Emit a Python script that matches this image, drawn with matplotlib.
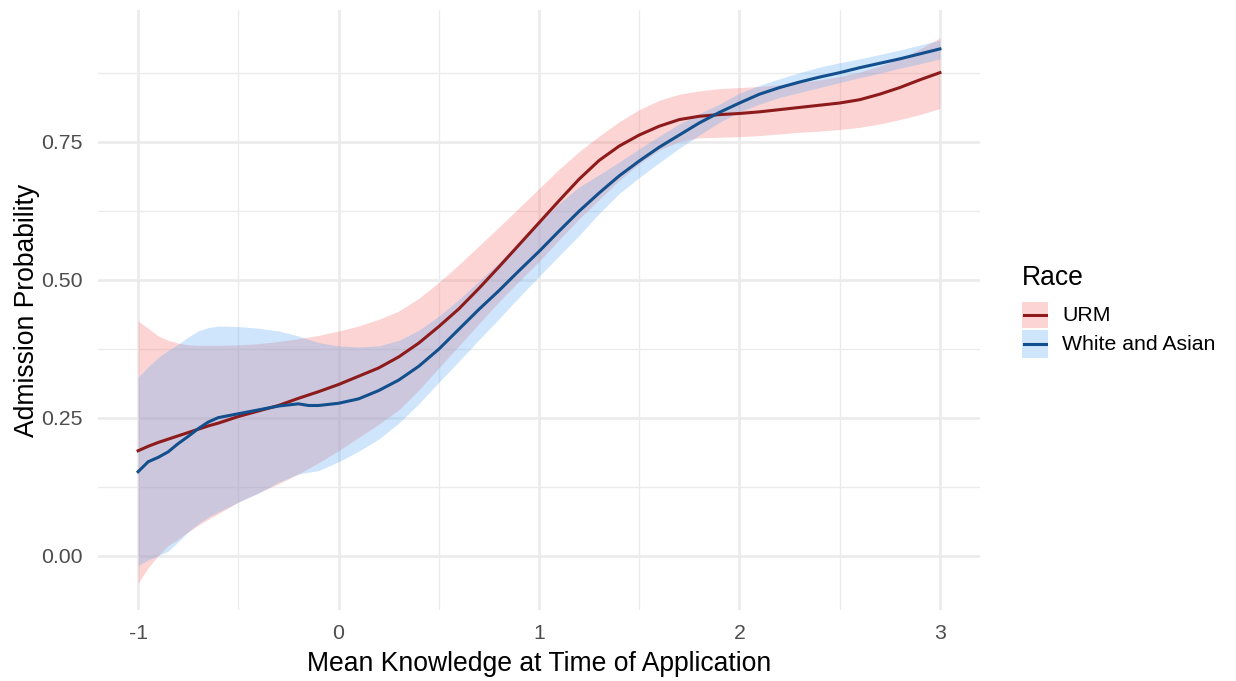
import matplotlib
matplotlib.use("Agg")
import matplotlib.pyplot as plt
from matplotlib.patches import Rectangle
from matplotlib.lines import Line2D
import numpy as np

plt.rcParams["font.family"] = ["Liberation Sans", "DejaVu Sans"]

# Predictor grid
knowledge = [-1.0, -0.95, -0.9, -0.85, -0.8, -0.75, -0.7, -0.65, -0.6, -0.5,
             -0.4, -0.3, -0.2, -0.15, -0.1, 0.0, 0.1, 0.2, 0.3, 0.4,
             0.5, 0.6, 0.7, 0.8, 0.9, 1.0, 1.1, 1.2, 1.3, 1.4,
             1.5, 1.6, 1.7, 1.8, 1.9, 2.0, 2.1, 2.2, 2.3, 2.4,
             2.5, 2.6, 2.7, 2.8, 2.9, 3.0]

# URM: fitted probability and confidence band
urm_fit = [0.190, 0.198, 0.205, 0.211, 0.217, 0.223, 0.229, 0.235, 0.240, 0.252,
           0.262, 0.272, 0.285, 0.291, 0.297, 0.310, 0.325, 0.340, 0.360, 0.385,
           0.415, 0.447, 0.484, 0.523, 0.563, 0.603, 0.643, 0.682, 0.716, 0.742,
           0.762, 0.778, 0.790, 0.796, 0.799, 0.801, 0.804, 0.808, 0.812, 0.816,
           0.820, 0.826, 0.836, 0.848, 0.862, 0.875]
urm_hi = [0.425, 0.412, 0.398, 0.390, 0.385, 0.382, 0.381, 0.381, 0.381, 0.382,
          0.384, 0.388, 0.393, 0.396, 0.399, 0.407, 0.416, 0.428, 0.443, 0.466,
          0.495, 0.527, 0.561, 0.595, 0.630, 0.665, 0.700, 0.732, 0.760, 0.786,
          0.808, 0.825, 0.836, 0.842, 0.846, 0.848, 0.850, 0.853, 0.857, 0.862,
          0.868, 0.876, 0.887, 0.900, 0.918, 0.938]
urm_lo = [-0.050, -0.022, 0.000, 0.018, 0.030, 0.043, 0.055, 0.066, 0.076, 0.097,
          0.114, 0.130, 0.148, 0.158, 0.168, 0.190, 0.214, 0.238, 0.264, 0.300,
          0.340, 0.380, 0.420, 0.460, 0.497, 0.533, 0.572, 0.610, 0.645, 0.680,
          0.710, 0.735, 0.750, 0.757, 0.758, 0.759, 0.761, 0.764, 0.767, 0.769,
          0.772, 0.776, 0.782, 0.790, 0.799, 0.810]

# White and Asian: fitted probability and confidence band
wa_fit = [0.152, 0.170, 0.178, 0.188, 0.203, 0.216, 0.230, 0.242, 0.250, 0.257,
          0.264, 0.271, 0.275, 0.272, 0.272, 0.276, 0.284, 0.299, 0.318, 0.343,
          0.374, 0.410, 0.446, 0.480, 0.516, 0.551, 0.588, 0.624, 0.657, 0.688,
          0.715, 0.740, 0.762, 0.784, 0.803, 0.820, 0.836, 0.848, 0.858, 0.867,
          0.875, 0.884, 0.892, 0.900, 0.909, 0.918]
wa_hi = [0.323, 0.342, 0.359, 0.372, 0.383, 0.396, 0.407, 0.413, 0.416, 0.415,
         0.412, 0.407, 0.398, 0.392, 0.386, 0.380, 0.378, 0.380, 0.390, 0.408,
         0.434, 0.464, 0.497, 0.531, 0.567, 0.603, 0.638, 0.668, 0.690, 0.713,
         0.737, 0.760, 0.782, 0.801, 0.818, 0.838, 0.852, 0.864, 0.875, 0.885,
         0.893, 0.900, 0.908, 0.916, 0.925, 0.934]
wa_lo = [-0.018, -0.008, 0.000, 0.008, 0.025, 0.043, 0.058, 0.070, 0.079, 0.097,
         0.113, 0.133, 0.148, 0.151, 0.154, 0.170, 0.189, 0.211, 0.240, 0.275,
         0.314, 0.352, 0.391, 0.429, 0.468, 0.506, 0.543, 0.580, 0.620, 0.656,
         0.685, 0.712, 0.738, 0.762, 0.785, 0.804, 0.818, 0.830, 0.839, 0.848,
         0.857, 0.866, 0.874, 0.883, 0.891, 0.900]

groups = ["URM", "White and Asian"]
line_colors = ["#8E1B1B", "#134F8C"]
fill_colors = ["#F87373", "#5FACF5"]
fill_alpha = 0.3

x_ticks = [-1, 0, 1, 2, 3]
y_ticks = [0.00, 0.25, 0.50, 0.75]
y_tick_labels = ["0.00", "0.25", "0.50", "0.75"]

W, H = 1236, 681
fig = plt.figure(figsize=(W / 100, H / 100), dpi=100)
ax = fig.add_axes([98 / W, 1 - 610 / H, (980 - 98) / W, (610 - 10) / H])

series = [(urm_fit, urm_lo, urm_hi), (wa_fit, wa_lo, wa_hi)]
x = np.array(knowledge)
for (fit, lo, hi), fc in zip(series, fill_colors):
    ax.fill_between(x, lo, hi, color=fc, alpha=fill_alpha, lw=0, zorder=2)
for (fit, lo, hi), lc in zip(series, line_colors):
    ax.plot(x, fit, color=lc, lw=2.2, zorder=3, solid_joinstyle="round")

ax.set_xlim(-1.2, 3.2)
ax.set_ylim(-0.0985, 0.9885)

ax.set_xticks(x_ticks)
ax.set_xticklabels([str(t) for t in x_ticks])
ax.set_xticks([-0.5, 0.5, 1.5, 2.5], minor=True)
ax.set_yticks(y_ticks)
ax.set_yticklabels(y_tick_labels)
ax.set_yticks([0.125, 0.375, 0.625, 0.875], minor=True)

ax.grid(which="major", color="#EBEBEB", lw=1.9, zorder=0)
ax.grid(which="minor", color="#EBEBEB", lw=0.95, zorder=0)
ax.set_axisbelow(True)
for s in ax.spines.values():
    s.set_visible(False)
ax.tick_params(which="both", length=0)
ax.tick_params(axis="both", labelsize=15.3, labelcolor="#4D4D4D")
ax.tick_params(axis="x", pad=10)
ax.tick_params(axis="y", pad=11)

ax.set_xlabel("Mean Knowledge at Time of Application", fontsize=19.1, color="black", labelpad=6)
ax.set_ylabel("Admission Probability", fontsize=19.1, color="black", labelpad=1)

# Legend drawn in pixel coordinates on the figure
def fx(px):
    return px / W

def fy(py):
    return 1 - py / H

fig.text(fx(1022), fy(278), "Race", fontsize=19.1, ha="left", va="center")
key_rows = [(302, 328), (330, 358)]
for (top, bot), g, lc, fc in zip(key_rows, groups, line_colors, fill_colors):
    fig.add_artist(Rectangle((fx(1022), fy(bot)), fx(1048) - fx(1022), fy(top) - fy(bot),
                             transform=fig.transFigure, facecolor=fc, alpha=fill_alpha,
                             edgecolor="none"))
    ymid = fy((top + bot) / 2)
    fig.add_artist(Line2D([fx(1024), fx(1046)], [ymid, ymid], transform=fig.transFigure,
                          color=lc, lw=2.2))
    fig.text(fx(1062), ymid, g, fontsize=15.3, ha="left", va="center")

fig.savefig("out.png", dpi=100, facecolor="white")
